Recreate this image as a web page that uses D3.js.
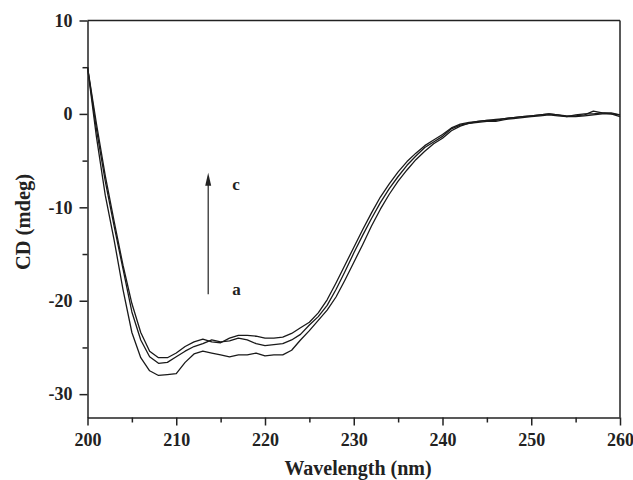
<!DOCTYPE html>
<html>
<head>
<meta charset="utf-8">
<script src="https://cdn.jsdelivr.net/npm/d3@7"></script>
<style>
  body { margin: 0; background: #fff; }
  svg text { font-family: "Liberation Serif", "Times New Roman", serif; font-weight: bold; fill: #222; }
</style>
</head>
<body>
<svg id="chart" width="633" height="480"></svg>
<script>
// Wavelength (nm) sampled every 1 nm
const wavelength = [200, 201, 202, 203, 204, 205, 206, 207, 208, 209, 210, 211, 212, 213, 214, 215, 216, 217, 218, 219,
  220, 221, 222, 223, 224, 225, 226, 227, 228, 229, 230, 231, 232, 233, 234, 235, 236, 237, 238, 239,
  240, 241, 242, 243, 244, 245, 246, 247, 248, 249, 250, 251, 252, 253, 254, 255, 256, 257, 258, 259, 260];

// CD (mdeg) for curve a (lowest)
const cdA = [5.0, -2.4, -8.7, -13.5, -18.8, -23.4, -26.1, -27.5, -28.0, -27.9, -27.8, -26.6, -25.7, -25.4, -25.6, -25.8, -26.0, -25.8, -25.8, -25.6,
  -25.9, -25.8, -25.8, -25.3, -24.2, -23.2, -22.1, -21.0, -19.6, -17.8, -15.9, -14.0, -12.0, -10.2, -8.6, -7.2, -6.0, -4.9, -4.0, -3.2,
  -2.6, -1.8, -1.3, -1.0, -0.9, -0.8, -0.8, -0.6, -0.5, -0.4, -0.3, -0.2, -0.1, -0.2, -0.3, -0.3, -0.2, -0.1, 0.0, 0.0, -0.3];

// CD (mdeg) for curve b (middle)
const cdB = [5.0, -1.6, -7.2, -12.0, -16.6, -21.2, -24.2, -26.0, -26.7, -26.6, -26.0, -25.4, -24.9, -24.6, -24.2, -24.4, -24.3, -24.0, -24.2, -24.6,
  -24.8, -24.7, -24.6, -24.2, -23.6, -22.6, -21.7, -20.5, -18.8, -16.9, -14.9, -13.0, -11.2, -9.5, -8.0, -6.7, -5.5, -4.5, -3.6, -3.0,
  -2.4, -1.6, -1.2, -1.0, -0.8, -0.7, -0.7, -0.5, -0.4, -0.3, -0.2, -0.1, 0.0, -0.1, -0.2, -0.2, -0.1, 0.3, 0.1, 0.0, -0.1];

// CD (mdeg) for curve c (top)
const cdC = [5.0, -1.0, -6.6, -11.5, -16.2, -20.3, -23.4, -25.4, -26.1, -26.1, -25.6, -24.9, -24.4, -24.1, -24.4, -24.5, -24.0, -23.7, -23.7, -23.8,
  -24.0, -24.0, -23.9, -23.5, -22.9, -22.3, -21.3, -19.9, -18.1, -16.2, -14.3, -12.4, -10.6, -8.9, -7.5, -6.2, -5.1, -4.2, -3.4, -2.8,
  -2.2, -1.5, -1.1, -0.9, -0.8, -0.7, -0.6, -0.5, -0.4, -0.3, -0.2, -0.1, 0.0, -0.1, -0.3, -0.1, 0.0, 0.0, 0.1, 0.1, -0.1];

const xTicks = [200, 210, 220, 230, 240, 250, 260];
const xMinorTicks = [205, 215, 225, 235, 245, 255];
const yTicks = [10, 0, -10, -20, -30];
const yMinorTicks = [5, -5, -15, -25];

// Arrow annotation (data coords) and curve labels
const arrowX = 213.6;
const arrowFrom = -19.3;
const arrowTo = -6.3;
const labels = [
  { text: 'c', x: 216.3, y: -8.1 },
  { text: 'a', x: 216.3, y: -19.4 },
];

const svg = d3.select('#chart');

// Plot area edges
const plotLeft = 87.5, plotRight = 620, plotTop = 20.5, plotBottom = 417.5;

const x = d3.scaleLinear().domain([200, 260]).range([plotLeft, plotRight]);
const y = d3.scaleLinear().domain([-32.5, 10]).range([plotBottom, plotTop]);

const axisColor = '#222';

// Curves
const line = d3.line()
  .x((d) => x(d[0]))
  .y((d) => y(d[1]));

[cdA, cdB, cdC].forEach((series) => {
  svg.append('path')
    .datum(wavelength.map((w, i) => [w, series[i]]))
    .attr('d', line)
    .attr('fill', 'none')
    .attr('stroke', '#1a1a1a')
    .attr('stroke-width', 1.3)
    .attr('stroke-linejoin', 'round');
});

// Frame: top and right borders
svg.append('line')
  .attr('x1', plotLeft).attr('x2', plotRight).attr('y1', plotTop).attr('y2', plotTop)
  .attr('stroke', axisColor).attr('stroke-width', 1.5);
svg.append('line')
  .attr('x1', plotRight).attr('x2', plotRight).attr('y1', plotTop).attr('y2', plotBottom)
  .attr('stroke', axisColor).attr('stroke-width', 1.5);

// Bottom axis (minor then major)
svg.append('g')
  .attr('transform', `translate(0,${plotBottom})`)
  .call(d3.axisBottom(x).tickValues(xMinorTicks).tickSize(5).tickFormat(''))
  .call((g) => g.select('.domain').remove())
  .selectAll('line').attr('stroke', axisColor).attr('stroke-width', 1.5);

const xAxis = svg.append('g')
  .attr('transform', `translate(0,${plotBottom})`)
  .call(d3.axisBottom(x).tickValues(xTicks).tickSize(8).tickPadding(8).tickSizeOuter(0).tickFormat(d3.format('d')));
xAxis.select('.domain').attr('stroke', axisColor).attr('stroke-width', 1.5);
xAxis.selectAll('line').attr('stroke', axisColor).attr('stroke-width', 1.5);
xAxis.selectAll('text').style('font-size', '18px').attr('fill', '#222');

// Left axis (minor then major)
svg.append('g')
  .attr('transform', `translate(${plotLeft},0)`)
  .call(d3.axisLeft(y).tickValues(yMinorTicks).tickSize(5).tickFormat(''))
  .call((g) => g.select('.domain').remove())
  .selectAll('line').attr('stroke', axisColor).attr('stroke-width', 1.5);

const yAxis = svg.append('g')
  .attr('transform', `translate(${plotLeft},0)`)
  .call(d3.axisLeft(y).tickValues(yTicks).tickSize(8).tickPadding(7).tickSizeOuter(0).tickFormat((d) => String(d)));
yAxis.select('.domain').attr('stroke', axisColor).attr('stroke-width', 1.5);
yAxis.selectAll('line').attr('stroke', axisColor).attr('stroke-width', 1.5);
yAxis.selectAll('text').style('font-size', '18px').attr('fill', '#222');

// Axis titles
svg.append('text')
  .attr('x', 358)
  .attr('y', 475)
  .attr('text-anchor', 'middle')
  .style('font-size', '20px')
  .text('Wavelength (nm)');

svg.append('text')
  .attr('transform', 'translate(30,222) rotate(-90)')
  .attr('text-anchor', 'middle')
  .style('font-size', '20.5px')
  .text('CD (mdeg)');

// Arrow from a to c
const ax = x(arrowX);
svg.append('line')
  .attr('x1', ax).attr('x2', ax)
  .attr('y1', y(arrowFrom)).attr('y2', y(arrowTo) + 10)
  .attr('stroke', '#222').attr('stroke-width', 1.2);
svg.append('path')
  .attr('d', `M${ax},${y(arrowTo)} L${ax - 3},${y(arrowTo) + 13} L${ax + 3},${y(arrowTo) + 13} Z`)
  .attr('fill', '#222');

svg.selectAll('.curve-label')
  .data(labels)
  .enter().append('text')
  .attr('class', 'curve-label')
  .attr('x', (d) => x(d.x))
  .attr('y', (d) => y(d.y))
  .style('font-size', '17px')
  .text((d) => d.text);
</script>
</body>
</html>
